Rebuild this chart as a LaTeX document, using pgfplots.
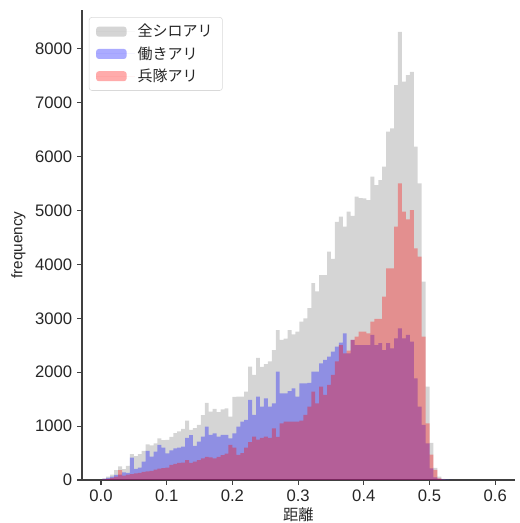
\documentclass[border=0pt]{standalone}
\usepackage{fontspec}
\setmainfont{Liberation Sans}
\newfontfamily\jp{Noto Sans CJK JP}
\usepackage{pgfplots}
\pgfplotsset{compat=1.18}
\usepackage{pgfplotstable}

\pgfplotstableread{
x y
0.002 30
0.008 60
0.014 100
0.020 180
0.026 250
0.032 200
0.038 260
0.044 477
0.050 440
0.056 477
0.062 538
0.068 662
0.074 640
0.080 680
0.086 773
0.092 740
0.098 742
0.104 800
0.110 870
0.116 900
0.122 950
0.128 1100
0.134 930
0.140 960
0.146 1020
0.152 1205
0.158 1428
0.164 1267
0.170 1317
0.176 1260
0.182 1311
0.188 1330
0.194 1175
0.200 1540
0.206 1545
0.212 1545
0.218 1638
0.224 2102
0.230 1950
0.236 2263
0.242 2100
0.248 2150
0.254 2200
0.260 2411
0.266 2782
0.272 2600
0.278 2620
0.284 2782
0.290 2700
0.296 2750
0.302 2937
0.308 3000
0.314 3190
0.320 3650
0.326 3500
0.332 3800
0.338 3800
0.344 4235
0.350 4100
0.356 4790
0.362 4884
0.368 4700
0.374 4977
0.380 4900
0.386 5255
0.392 5230
0.398 5225
0.404 5194
0.410 5627
0.416 5472
0.422 5565
0.428 5812
0.434 6461
0.440 6524
0.446 7327
0.452 8316
0.458 7389
0.464 7513
0.470 7574
0.476 6183
0.482 5504
0.488 3679
0.494 1731
0.500 686
0.506 222
0.512 60
0.518 20
0.524 5
0.530 0
}\grayt

\pgfplotstableread{
x y
0.002 20
0.008 37
0.014 62
0.020 93
0.026 100
0.032 142
0.038 130
0.044 414
0.050 204
0.056 230
0.062 340
0.068 538
0.074 433
0.080 525
0.086 649
0.092 600
0.098 494
0.104 550
0.110 587
0.116 600
0.122 618
0.128 780
0.134 830
0.140 630
0.146 711
0.152 804
0.158 989
0.164 835
0.170 866
0.176 804
0.182 835
0.188 835
0.194 773
0.200 866
0.206 989
0.212 1082
0.218 1113
0.224 1484
0.230 1206
0.236 1545
0.242 1360
0.248 1515
0.254 1360
0.260 1422
0.266 2009
0.272 1607
0.278 1607
0.284 1650
0.290 1700
0.296 1545
0.302 1793
0.308 1793
0.314 1800
0.320 2009
0.326 2009
0.332 2164
0.338 2226
0.344 2288
0.350 2380
0.356 2473
0.362 2550
0.368 2721
0.374 2350
0.380 2597
0.386 2500
0.392 2504
0.398 2504
0.404 2504
0.410 2690
0.416 2504
0.422 2540
0.428 2411
0.434 2540
0.440 2440
0.446 2628
0.452 2813
0.458 2628
0.464 2690
0.470 2566
0.476 1886
0.482 1360
0.488 1020
0.494 680
0.500 217
0.506 50
0.512 20
0.518 10
0.524 5
0.530 3
0.536 0
}\bluet

\pgfplotstableread{
x y
0.002 10
0.008 20
0.014 40
0.020 60
0.026 180
0.032 80
0.038 100
0.044 110
0.050 120
0.056 130
0.062 150
0.068 160
0.074 170
0.080 190
0.086 210
0.092 220
0.098 230
0.104 280
0.110 300
0.116 315
0.122 320
0.128 370
0.134 315
0.140 340
0.146 370
0.152 400
0.158 430
0.164 420
0.170 400
0.176 430
0.182 460
0.188 490
0.194 649
0.200 600
0.206 464
0.212 500
0.218 600
0.224 700
0.230 804
0.236 750
0.242 780
0.248 804
0.254 780
0.260 959
0.266 800
0.272 1051
0.278 1082
0.284 1082
0.290 1082
0.296 1082
0.302 1100
0.308 1206
0.314 1360
0.320 1638
0.326 1422
0.332 1731
0.338 1577
0.344 1762
0.350 1948
0.356 2200
0.362 2504
0.368 2350
0.374 2400
0.380 2597
0.386 2658
0.392 2751
0.398 2751
0.404 2720
0.410 2937
0.416 2987
0.422 2987
0.428 3400
0.434 3927
0.440 3927
0.446 4700
0.452 5504
0.458 4977
0.464 4836
0.470 5008
0.476 4298
0.482 4142
0.488 2658
0.494 1050
0.500 470
0.506 185
0.512 30
0.518 5
0.524 0
}\redt

\begin{document}
\begin{tikzpicture}
\begin{axis}[
  name=ax,
  scale only axis,
  width=311.8pt, height=338.4pt,
  xmin=-0.029, xmax=0.63, ymin=0, ymax=8720,
  axis x line*=bottom, axis y line*=left,
  axis line style={-, black!75, line width=0.9pt},
  tick style={black!75, line width=0.8pt},
  tick align=outside, major tick length=3.5pt,
  xtick={0,0.1,0.2,0.3,0.4,0.5,0.6},
  ytick={0,1000,2000,3000,4000,5000,6000,7000,8000},
  /pgf/number format/assume math mode=true,
  xticklabel style={/pgf/number format/.cd, fixed, fixed zerofill, precision=1},
  yticklabel style={/pgf/number format/.cd, fixed, 1000 sep={}},
  scaled ticks=false,
  ticklabel style={font=\fontsize{12}{14}\selectfont, text=black!85},
  xlabel={\jp 距離}, ylabel={frequency},
  label style={font=\fontsize{11}{13}\selectfont, text=black!85},
  xlabel style={yshift=2.5pt},
  legend style={at={(0.016,0.985)}, anchor=north west, draw=black!15,
    rounded corners=2pt, fill=white, fill opacity=0.8, text opacity=1,
    font=\jp\fontsize{10.8}{12}\selectfont, inner xsep=5pt, inner ysep=3pt,
    row sep=1.5pt, text=black!85},
  legend cell align=left,
  legend image code/.code={\fill[#1] (0pt,-3.6pt) rectangle (22pt,3.6pt);
    \path (0pt,0pt) -- (28pt,0pt);},
]
\addplot[fill=gray, fill opacity=0.33, draw=none, const plot mark left] table {\grayt} \closedcycle;
\addlegendentry{全シロアリ}
\addplot[fill=blue, fill opacity=0.33, draw=none, const plot mark left] table {\bluet} \closedcycle;
\addlegendentry{働きアリ}
\addplot[fill=red, fill opacity=0.33, draw=none, const plot mark left] table {\redt} \closedcycle;
\addlegendentry{兵隊アリ}
\end{axis}
\pgfresetboundingbox
\path[use as bounding box] ([xshift=-59pt,yshift=-31pt]ax.south west) rectangle ([xshift=3.6pt,yshift=7.2pt]ax.north east);
\end{tikzpicture}
\end{document}
